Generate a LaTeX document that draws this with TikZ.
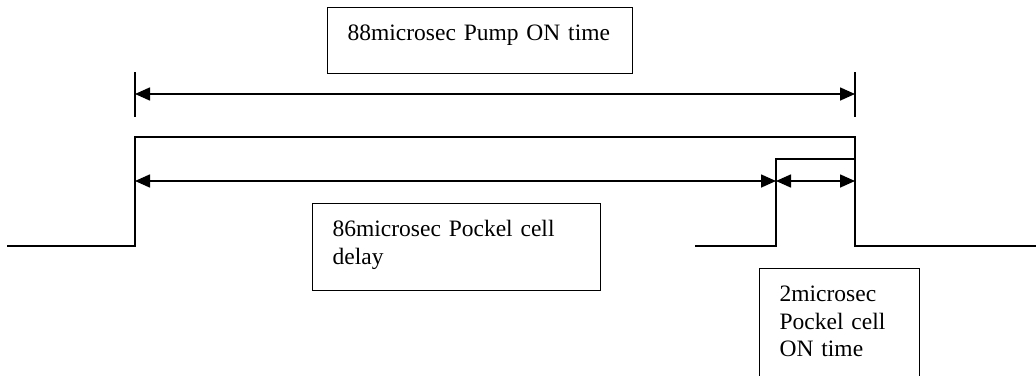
\documentclass[tikz,border=0pt]{standalone}
\usepackage{fontspec}
\setmainfont{Liberation Serif}
\usetikzlibrary{arrows.meta, positioning}

\begin{document}
\begin{tikzpicture}[x=1pt, y=-1pt]
	% Styles
	\tikzstyle{box} = [draw, line width=1.3pt, anchor=north west, inner xsep=20pt, inner ysep=0pt, align=left, text height=33pt, font=\fontsize{23.5}{27.6}\selectfont]
	\tikzstyle{signal} = [line width=1.6pt]
	\tikzstyle{arrow} = [line width=1.6pt, {Triangle[length=15pt,width=13pt]}-{Triangle[length=15pt,width=13pt]}]
	\tikzstyle{tick} = [line width=1.6pt]

	\useasboundingbox (0,0) rectangle (1036,375);
	\clip (0,0) rectangle (1036,375);

	% Time marks and levels
	\coordinate (start) at (135,0);
	\coordinate (cellon) at (776,0);
	\coordinate (stop) at (855,0);
	\coordinate (low) at (0,246);
	\coordinate (high) at (0,137);
	\coordinate (cellhigh) at (0,159);
	\coordinate (pumpline) at (0,94);
	\coordinate (delayline) at (0,181);

	% Nodes
	\node (pumpbox) [box, text width=265pt, text depth=33pt] at (327,7) {\mbox{88microsec Pump ON time}};
	\node (delaybox) [box, text width=248pt, text depth=54pt] at (312,203) {86microsec Pockel cell\\delay};
	\node (onbox) [box, text width=120pt, text depth=90pt] at (759,268) {2microsec\\Pockel cell\\ON time};

	% Pulses
	\draw [signal] (7,246) -- (start |- low) -- (start |- high) -- (stop |- high) -- (stop |- low) -- (1036,246);
	\draw [signal] (695,246) -- (cellon |- low) -- (cellon |- cellhigh) -- (stop |- cellhigh);

	% Ticks
	\draw [tick] (start |- 0,72) -- (start |- 0,117);
	\draw [tick] (stop |- 0,72) -- (stop |- 0,117);

	% Connections
	\draw [arrow] (start |- pumpline) -- (stop |- pumpline);
	\draw [arrow] (start |- delayline) -- (cellon |- delayline);
	\draw [arrow] (cellon |- delayline) -- (stop |- delayline);

\end{tikzpicture}
\end{document}
